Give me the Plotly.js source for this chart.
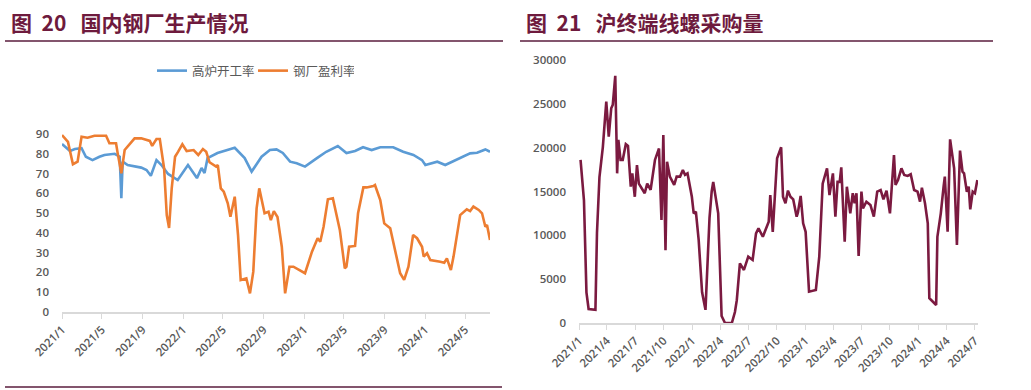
<!DOCTYPE html>
<html>
<head>
<meta charset="utf-8">
<script src="https://cdn.plot.ly/plotly-3.0.1.min.js"></script>
<style>
html,body{margin:0;padding:0;background:#fff;}
#chart{width:1031px;height:390px;}
</style>
</head>
<body>
<div id="chart"></div>
<script>
// ---- Left chart: 国内钢厂生产情况 ----
const blastDates = ['2021-01-01','2021-01-25','2021-02-09','2021-03-01','2021-03-14','2021-04-03','2021-04-24','2021-05-09','2021-06-09','2021-06-24','2021-06-29','2021-07-03','2021-07-18','2021-08-08','2021-08-28','2021-09-13','2021-09-26','2021-10-13','2021-10-28','2021-11-17','2021-12-16','2022-01-16','2022-02-12','2022-02-26','2022-03-07','2022-03-16','2022-04-15','2022-06-06','2022-07-06','2022-07-27','2022-08-26','2022-09-20','2022-10-10','2022-10-29','2022-11-20','2022-12-10','2023-01-04','2023-02-09','2023-03-09','2023-04-13','2023-05-09','2023-06-04','2023-06-28','2023-07-24','2023-08-19','2023-09-27','2023-10-27','2023-11-27','2023-12-23','2024-01-02','2024-02-07','2024-03-02','2024-04-07','2024-05-16','2024-06-06','2024-07-01','2024-07-15'];
const blastRate = [85,81.4,82.4,82.8,78.5,76.8,78.5,79.4,80,78.5,57.6,76,74.3,73.5,73,71.8,68.9,76.8,74.3,69.8,66.7,74.3,67.7,72.8,70.3,77.8,80.4,83,77.8,71,78.5,81.9,82.2,80.4,76,75.2,73.5,77.8,81,83.9,80.4,81.4,83.3,81.9,83.3,83.3,81,79.4,76.8,74.3,76,74.3,77.2,80.2,80.5,82.2,81];

const profitDates = ['2021-01-01','2021-01-19','2021-02-03','2021-02-17','2021-03-01','2021-03-19','2021-04-09','2021-05-14','2021-05-24','2021-06-13','2021-06-18','2021-06-29','2021-07-09','2021-08-08','2021-08-28','2021-09-23','2021-09-30','2021-10-13','2021-10-23','2021-11-05','2021-11-13','2021-11-20','2021-11-28','2021-12-08','2021-12-17','2021-12-30','2022-01-12','2022-02-02','2022-02-16','2022-03-02','2022-03-12','2022-03-22','2022-04-11','2022-04-16','2022-04-25','2022-05-04','2022-05-16','2022-05-24','2022-06-06','2022-06-16','2022-06-24','2022-07-11','2022-07-22','2022-08-01','2022-08-11','2022-08-19','2022-09-04','2022-09-16','2022-09-23','2022-10-02','2022-10-13','2022-10-26','2022-11-05','2022-11-18','2022-11-30','2022-12-15','2023-01-04','2023-01-25','2023-02-11','2023-02-19','2023-03-01','2023-03-14','2023-03-29','2023-04-19','2023-05-04','2023-05-09','2023-05-17','2023-06-04','2023-06-13','2023-06-29','2023-07-09','2023-07-29','2023-08-03','2023-08-19','2023-08-31','2023-09-18','2023-10-03','2023-10-18','2023-10-30','2023-11-12','2023-11-26','2023-12-08','2023-12-23','2023-12-28','2024-01-07','2024-01-17','2024-02-16','2024-02-28','2024-03-07','2024-03-19','2024-03-27','2024-04-16','2024-05-06','2024-05-16','2024-05-26','2024-06-11','2024-06-21','2024-07-01','2024-07-06','2024-07-15'];
const profitRate = [89.5,86,74.7,76,88.6,88.1,89.1,89.1,85.3,85.3,80.2,70.1,81.9,87.8,87.8,86.5,84,87.5,87.5,72.6,49,42.5,62.7,78.5,81,84.8,81.4,81.9,79.4,82.4,81,75.7,73.5,74.3,62.5,60.8,55,48.2,58.3,38.9,16.2,17,9.4,20.4,52.4,62.5,49.9,50.7,46.5,51,48,33,9.4,22.9,22.9,21.6,19.6,30.5,37.3,35.5,43.1,57,57.5,41.5,22.1,22.9,33,33.4,49.9,63,63,63.7,64.2,56.6,44.8,42.3,31.3,19.6,16.2,22.9,38.9,37.3,33,28,29.7,26.3,25.4,24.9,27.1,21.2,28,49,51.9,51,53.3,51.6,49.9,43.1,44,36.4];

// ---- Right chart: 沪终端线螺采购量 ----
const buyDates = ['2021-01-06','2021-01-17','2021-01-25','2021-02-01','2021-02-23','2021-02-28','2021-03-08','2021-03-19','2021-03-30','2021-04-07','2021-04-15','2021-04-20','2021-04-28','2021-05-04','2021-05-08','2021-05-15','2021-05-22','2021-06-01','2021-06-08','2021-06-17','2021-06-22','2021-06-30','2021-07-07','2021-07-13','2021-08-01','2021-08-09','2021-08-20','2021-09-03','2021-09-16','2021-09-24','2021-09-30','2021-10-07','2021-10-12','2021-10-21','2021-11-04','2021-11-12','2021-11-23','2021-12-02','2021-12-09','2021-12-17','2021-12-31','2022-01-06','2022-01-13','2022-01-22','2022-02-02','2022-02-13','2022-02-26','2022-03-05','2022-03-10','2022-03-26','2022-04-06','2022-04-17','2022-05-09','2022-05-19','2022-05-25','2022-06-04','2022-06-17','2022-07-01','2022-07-15','2022-07-26','2022-08-03','2022-08-17','2022-09-05','2022-09-10','2022-09-18','2022-09-27','2022-10-02','2022-10-15','2022-10-21','2022-10-29','2022-11-06','2022-11-14','2022-11-23','2022-12-04','2022-12-08','2022-12-17','2022-12-25','2023-01-02','2023-01-13','2023-02-04','2023-02-15','2023-02-26','2023-03-12','2023-03-20','2023-03-31','2023-04-08','2023-04-15','2023-04-22','2023-04-27','2023-05-08','2023-05-15','2023-05-26','2023-06-03','2023-06-09','2023-06-15','2023-06-22','2023-07-01','2023-07-06','2023-07-17','2023-07-30','2023-08-10','2023-08-21','2023-09-01','2023-09-10','2023-09-20','2023-10-01','2023-10-14','2023-10-19','2023-10-27','2023-11-07','2023-11-16','2023-11-27','2023-12-07','2023-12-18','2023-12-29','2024-01-06','2024-01-12','2024-01-22','2024-01-31','2024-02-05','2024-02-27','2024-03-02','2024-03-13','2024-03-22','2024-03-26','2024-04-04','2024-04-12','2024-04-25','2024-05-04','2024-05-14','2024-05-22','2024-05-27','2024-06-05','2024-06-11','2024-06-16','2024-06-24','2024-07-01','2024-07-09'];
const buyVolume = [18600,14000,3500,1600,1500,10300,16650,20100,25250,21250,24500,24900,28200,17070,20900,18600,18600,20400,20200,15550,17070,14400,18000,15900,14800,15900,15200,18600,19900,11750,21450,8300,18400,16700,15750,16700,16700,17450,16900,17070,14400,12500,12700,9470,3500,1500,12000,15000,16100,12500,800,0,0,1250,2600,6800,6050,7560,7190,10230,10800,9840,11560,14600,10400,16300,18800,20040,14400,13650,15100,14400,14100,12130,12580,14500,11370,10400,3570,3760,7560,15900,17650,14600,17070,12130,16100,16100,17760,9270,15550,12500,14800,13650,14800,7640,14980,13080,13840,13460,12130,14980,15170,14110,15090,12510,19160,15740,16310,17650,16880,16770,16960,15170,14980,13840,15430,13650,11370,2820,2050,9840,12510,15550,16690,10410,20950,17650,8900,19660,17260,17070,14980,15550,12970,14980,14800,16310];

const W = 1031, H = 390;
const px = x => x / W;
const py = y => 1 - y / H;

const tickFont = {family: 'Open Sans, Noto Sans, sans-serif', size: 11.5, color: '#595959', weight: 600};
const titleColor = '#6e1a3d';
const titleFont = {family: 'Noto Sans CJK SC, sans-serif', size: 21, color: titleColor};

const traces = [
  {x: blastDates, y: blastRate, name: '高炉开工率', type: 'scatter', mode: 'lines',
   line: {color: '#5b9bd5', width: 2.6}, xaxis: 'x', yaxis: 'y'},
  {x: profitDates, y: profitRate, name: '钢厂盈利率', type: 'scatter', mode: 'lines',
   line: {color: '#ed7d31', width: 2.6}, xaxis: 'x', yaxis: 'y'},
  {x: buyDates, y: buyVolume, name: '沪终端线螺采购量', type: 'scatter', mode: 'lines',
   line: {color: '#7b1a40', width: 2.6}, xaxis: 'x2', yaxis: 'y2', showlegend: false}
];

const xCommon = {
  type: 'date', tickformat: '%Y/%-m', tickangle: -45, tickfont: tickFont,
  showgrid: false, zeroline: false, showline: true, linecolor: '#d9d9d9', linewidth: 1.5,
  ticks: 'outside', ticklen: 5, tickcolor: '#d9d9d9', tickwidth: 1
};
const yCommon = {
  showgrid: false, zeroline: false, showline: false, tickfont: tickFont, ticks: ''
};

const layout = {
  width: W, height: H,
  margin: {l: 0, r: 0, t: 0, b: 0},
  paper_bgcolor: '#fff', plot_bgcolor: '#fff',
  showlegend: true,
  legend: {orientation: 'h', x: px(152), y: py(56), xanchor: 'left', yanchor: 'top',
           font: {family: 'Noto Sans CJK SC, sans-serif', size: 12.5, color: '#595959'},
           bgcolor: 'rgba(0,0,0,0)', itemwidth: 30, entrywidth: 56},
  xaxis: Object.assign({}, xCommon, {domain: [px(62), px(490)], anchor: 'y',
           range: ['2021-01-01', '2024-07-15'], tick0: '2021-01-01', dtick: 'M4'}),
  yaxis: Object.assign({}, yCommon, {domain: [py(312), py(134)], anchor: 'x',
           range: [0, 90], dtick: 10, ticklabelstandoff: 12}),
  xaxis2: Object.assign({}, xCommon, {domain: [px(579), px(978)], anchor: 'y2',
           range: ['2021-01-01', '2024-07-11'], tick0: '2021-01-01', dtick: 'M3'}),
  yaxis2: Object.assign({}, yCommon, {domain: [py(323), py(60)], anchor: 'x2',
           range: [0, 30000], dtick: 5000, tickformat: 'd', ticklabelstandoff: 12}),
  annotations: [
    {text: '<b>图&nbsp;&nbsp;20&nbsp;&nbsp;&nbsp;国内钢厂生产情况</b>', xref: 'paper', yref: 'paper', x: px(9), y: py(22),
     xanchor: 'left', yanchor: 'middle', showarrow: false, font: titleFont},
    {text: '<b>图&nbsp;&nbsp;21&nbsp;&nbsp;&nbsp;沪终端线螺采购量</b>', xref: 'paper', yref: 'paper', x: px(524), y: py(22),
     xanchor: 'left', yanchor: 'middle', showarrow: false, font: titleFont}
  ],
  shapes: [
    {type: 'line', xref: 'paper', yref: 'paper', x0: px(5), x1: px(503), y0: py(41), y1: py(41),
     line: {color: '#5a1d3c', width: 1.5}},
    {type: 'line', xref: 'paper', yref: 'paper', x0: px(520), x1: px(993), y0: py(41), y1: py(41),
     line: {color: '#5a1d3c', width: 1.5}},
    {type: 'line', xref: 'paper', yref: 'paper', x0: px(5), x1: px(502), y0: py(387), y1: py(387),
     line: {color: '#5a1d3c', width: 1.5}}
  ]
};

Plotly.newPlot('chart', traces, layout, {displayModeBar: false, staticPlot: true});
</script>
</body>
</html>
